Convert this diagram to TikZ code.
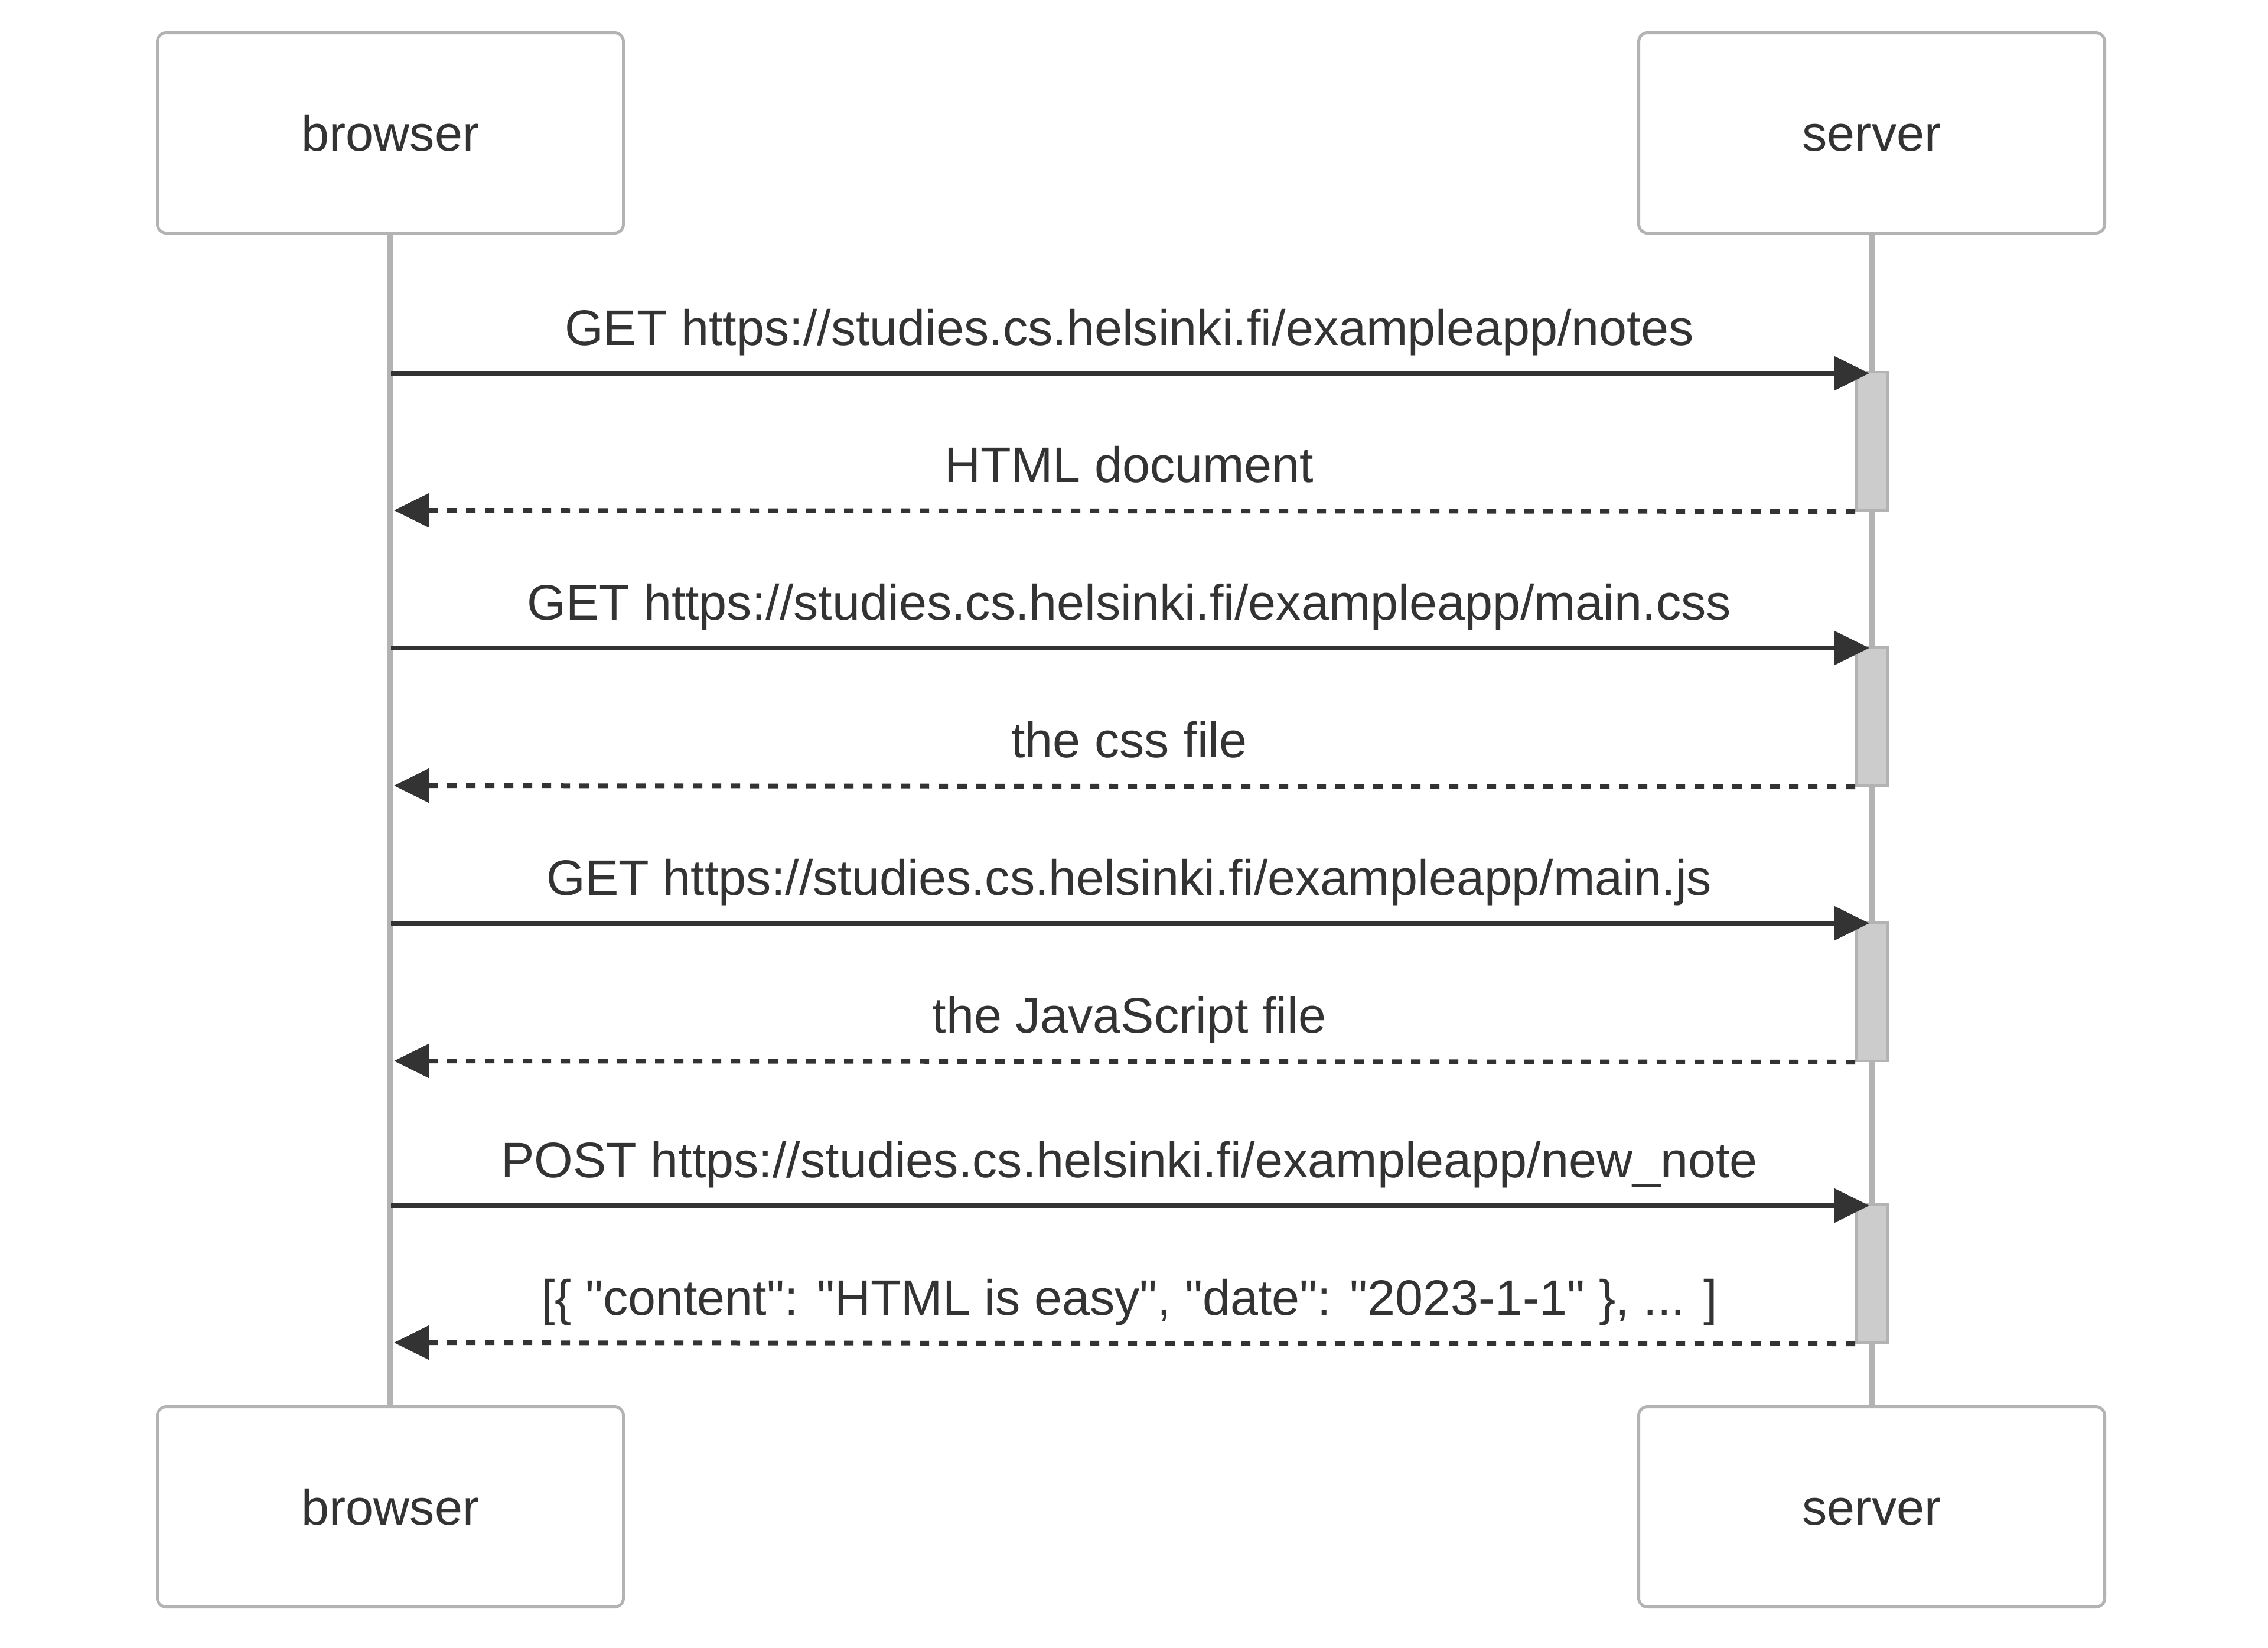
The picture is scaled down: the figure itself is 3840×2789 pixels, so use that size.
\documentclass[tikz,border=0pt]{standalone}
\usepackage{fontspec}
\setmainfont{Liberation Sans}[Ligatures=TeXOff]
\usetikzlibrary{arrows.meta}
\definecolor{ink}{HTML}{333333}
\definecolor{edge}{HTML}{B3B3B3}
\definecolor{actfill}{HTML}{CCCCCC}

\begin{document}
\begin{tikzpicture}[x=1pt,y=-1pt,
  actor/.style={draw=edge, line width=5pt, fill=white, rounded corners=15pt,
    minimum width=789pt, minimum height=339pt, inner sep=0pt, text=ink,
    font=\fontsize{84.5}{100}\selectfont, text height=60pt, text depth=0pt},
  lifeline/.style={draw=edge, line width=10pt},
  actbar/.style={draw=edge, fill=actfill, line width=4pt, minimum width=53pt,
    minimum height=234pt, inner sep=0pt},
  request/.style={draw=ink, line width=8pt,
    -{Triangle[length=59pt,width=56pt]}},
  reply/.style={draw=ink, line width=8pt, dash pattern=on 16pt off 16pt,
    -{Triangle[length=59pt,width=56pt]}},
  msglabel/.style={anchor=base, inner sep=0pt, text=ink,
    font=\fontsize{84.5}{100}\selectfont}
]
\useasboundingbox (0,0) rectangle (3840,2789);

% participants
\node[actor] (bT) at (661,225) {browser};
\node[actor] (sT) at (3169,225) {server};
\node[actor] (bB) at (661,2551) {browser};
\node[actor] (sB) at (3169,2551) {server};

% lifelines
\draw[lifeline] (bT.south) -- (bB.north);
\draw[lifeline] (sT.south) -- (sB.north);

% activation bars on the server
\node[actbar] (a1) at (3169.5,747) {};
\node[actbar] (a2) at (3169.5,1213) {};
\node[actbar] (a3) at (3169.5,1679) {};
\node[actbar] (a4) at (3169.5,2156) {};

% message end points
\coordinate (q1b) at (662,632);  \coordinate (q1s) at (3165,632);
\coordinate (r1b) at (667,864);
\coordinate (q2b) at (662,1097); \coordinate (q2s) at (3165,1097);
\coordinate (r2b) at (667,1330);
\coordinate (q3b) at (662,1563); \coordinate (q3s) at (3165,1563);
\coordinate (r3b) at (667,1796);
\coordinate (q4b) at (662,2041); \coordinate (q4s) at (3165,2041);
\coordinate (r4b) at (667,2273);

% messages
\draw[request] (q1b) -- (q1s);
\draw[reply] (a1.south west) -- (r1b);
\draw[request] (q2b) -- (q2s);
\draw[reply] (a2.south west) -- (r2b);
\draw[request] (q3b) -- (q3s);
\draw[reply] (a3.south west) -- (r3b);
\draw[request] (q4b) -- (q4s);
\draw[reply] (a4.south west) -- (r4b);

% message labels
\node[msglabel] (m1) at (1912,584) {GET https://studies.cs.helsinki.fi/exampleapp/notes};
\node[msglabel] (m2) at (1912,816) {HTML document};
\node[msglabel] (m3) at (1912,1049) {GET https://studies.cs.helsinki.fi/exampleapp/main.css};
\node[msglabel] (m4) at (1912,1282) {the css file};
\node[msglabel] (m5) at (1912,1515) {GET https://studies.cs.helsinki.fi/exampleapp/main.js};
\node[msglabel] (m6) at (1912,1748) {the JavaScript file};
\node[msglabel] (m7) at (1912,1993) {POST https://studies.cs.helsinki.fi/exampleapp/new\_note};
\node[msglabel] (m8) at (1912,2226) {[\{ "content": "HTML is easy", "date": "2023-1-1" \}, ... ]};
\end{tikzpicture}
\end{document}
